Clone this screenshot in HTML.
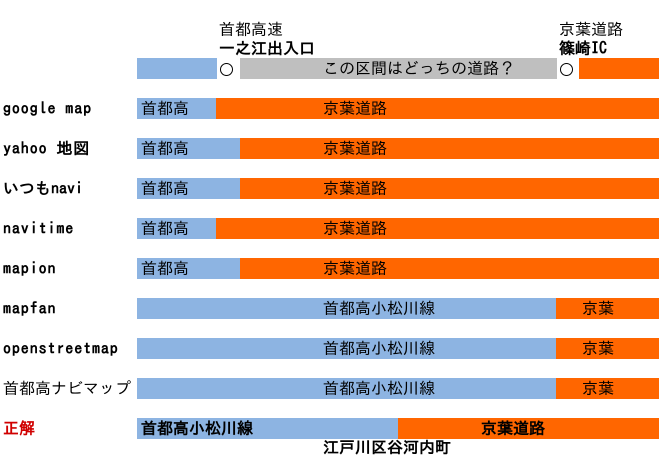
<!DOCTYPE html>
<html><head><meta charset="utf-8">
<style>
html,body{margin:0;padding:0;background:#fff;}
body{width:670px;height:469px;position:relative;overflow:hidden;font-family:"IPAGothic","Noto Sans CJK JP",sans-serif;color:#000;}
.b{position:absolute;height:21px;}
.bl{background:#8DB4E2;}
.or{background:#FF6600;}
.gr{background:#BFBFBF;}
.t{position:absolute;font-size:16px;line-height:21px;white-space:nowrap;}
.lab{position:absolute;left:3px;font-size:16px;line-height:21px;font-weight:bold;white-space:nowrap;}
.ls{letter-spacing:0.9px;}
.c{position:absolute;width:11px;height:11px;border:1px solid #000;border-radius:50%;background:#fff;}
</style></head><body>
<div class="t" style="left:219px;top:19px;">首都高速</div>
<div class="t" style="left:219px;top:38px;font-weight:bold;">一之江出入口</div>
<div class="t" style="left:559px;top:19px;">京葉道路</div>
<div class="t" style="left:559px;top:38px;font-weight:bold;">篠崎IC</div>

<div class="b bl" style="left:137px;top:58px;width:80px;"></div>
<div class="c" style="left:220px;top:63px;"></div>
<div class="b gr" style="left:240px;top:58px;width:317px;"></div>
<div class="t" style="left:323px;top:58px;">この区間はどっちの道路？</div>
<div class="c" style="left:560px;top:63px;"></div>
<div class="b or" style="left:579px;top:58px;width:80px;"></div>

<!-- google map -->
<div class="lab ls" style="top:98px;">google map</div>
<div class="b bl" style="left:137px;top:98px;width:79px;"></div>
<div class="b or" style="left:216px;top:98px;width:443px;"></div>
<div class="t" style="left:141px;top:98px;">首都高</div>
<div class="t" style="left:323px;top:98px;">京葉道路</div>

<!-- yahoo -->
<div class="lab ls" style="top:138px;">yahoo 地図</div>
<div class="b bl" style="left:137px;top:138px;width:103px;"></div>
<div class="b or" style="left:240px;top:138px;width:419px;"></div>
<div class="t" style="left:141px;top:138px;">首都高</div>
<div class="t" style="left:323px;top:138px;">京葉道路</div>

<!-- itsumo -->
<div class="lab" style="top:178px;">いつもnavi</div>
<div class="b bl" style="left:137px;top:178px;width:103px;"></div>
<div class="b or" style="left:240px;top:178px;width:419px;"></div>
<div class="t" style="left:141px;top:178px;">首都高</div>
<div class="t" style="left:323px;top:178px;">京葉道路</div>

<!-- navitime -->
<div class="lab ls" style="top:218px;">navitime</div>
<div class="b bl" style="left:137px;top:218px;width:79px;"></div>
<div class="b or" style="left:216px;top:218px;width:443px;"></div>
<div class="t" style="left:141px;top:218px;">首都高</div>
<div class="t" style="left:323px;top:218px;">京葉道路</div>

<!-- mapion -->
<div class="lab ls" style="top:258px;">mapion</div>
<div class="b bl" style="left:137px;top:258px;width:103px;"></div>
<div class="b or" style="left:240px;top:258px;width:419px;"></div>
<div class="t" style="left:141px;top:258px;">首都高</div>
<div class="t" style="left:323px;top:258px;">京葉道路</div>

<!-- mapfan -->
<div class="lab ls" style="top:298px;">mapfan</div>
<div class="b bl" style="left:137px;top:298px;width:419px;"></div>
<div class="b or" style="left:556px;top:298px;width:103px;"></div>
<div class="t" style="left:323px;top:298px;">首都高小松川線</div>
<div class="t" style="left:582px;top:298px;">京葉</div>

<!-- osm -->
<div class="lab ls" style="top:338px;">openstreetmap</div>
<div class="b bl" style="left:137px;top:338px;width:419px;"></div>
<div class="b or" style="left:556px;top:338px;width:103px;"></div>
<div class="t" style="left:323px;top:338px;">首都高小松川線</div>
<div class="t" style="left:582px;top:338px;">京葉</div>

<!-- shutoko navi -->
<div class="lab" style="top:378px;font-weight:normal;">首都高ナビマップ</div>
<div class="b bl" style="left:137px;top:378px;width:419px;"></div>
<div class="b or" style="left:556px;top:378px;width:103px;"></div>
<div class="t" style="left:323px;top:378px;">首都高小松川線</div>
<div class="t" style="left:582px;top:378px;">京葉</div>

<!-- seikai -->
<div class="lab" style="top:418px;color:#D00000;">正解</div>
<div class="b bl" style="left:137px;top:418px;width:261px;"></div>
<div class="b or" style="left:398px;top:418px;width:261px;"></div>
<div class="t" style="left:141px;top:418px;font-weight:bold;">首都高小松川線</div>
<div class="t" style="left:481px;top:418px;font-weight:bold;">京葉道路</div>
<div class="t" style="left:323px;top:437px;font-weight:bold;">江戸川区谷河内町</div>
</body></html>
